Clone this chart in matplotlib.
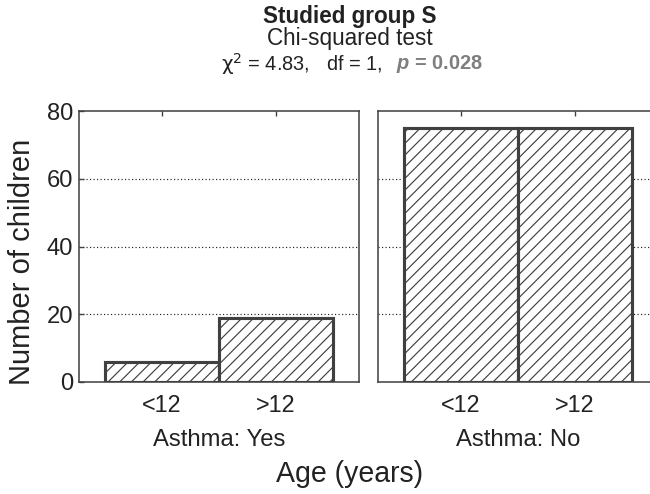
import matplotlib
matplotlib.use("Agg")
import matplotlib.pyplot as plt

plt.rcParams['font.family'] = ['Liberation Sans', 'DejaVu Sans']
plt.rcParams['hatch.color'] = '#808080'
plt.rcParams['hatch.linewidth'] = 0.6
plt.rcParams['mathtext.fontset'] = 'custom'
plt.rcParams['mathtext.it'] = 'Liberation Sans:italic:bold'
plt.rcParams['mathtext.rm'] = 'Liberation Sans'

age_groups = ["<12", ">12"]
asthma_groups = ["Asthma: Yes", "Asthma: No"]
counts_yes = [6, 19]
counts_no = [75, 75]
y_ticks = [0, 20, 40, 60, 80]

edge = '#404040'
txt = '#222222'
DPI = 140

fig = plt.figure(figsize=(650/DPI, 494/DPI), dpi=DPI)
ax1 = fig.add_axes([79/650, 112/494, 280/650, 271/494])
ax2 = fig.add_axes([378/650, 112/494, 280/650, 271/494])

for ax, vals, grp in [(ax1, counts_yes, asthma_groups[0]), (ax2, counts_no, asthma_groups[1])]:
    x = [1, 2]
    ax.bar(x, vals, width=1.0, color='white', edgecolor=edge, linewidth=1.6,
           hatch='////', zorder=3)
    ax.set_xlim(0.27, 2.73)
    ax.set_ylim(0, 80)
    ax.set_xticks(x)
    ax.set_xticklabels(age_groups, fontsize=12, color=txt)
    ax.set_yticks(y_ticks)
    ax.set_axisbelow(True)
    ax.yaxis.grid(True, linestyle=(0, (1, 2)), color=txt, linewidth=0.6)
    # no dotted line on top of the box edges
    gl = ax.get_ygridlines()
    gl[0].set_visible(False)
    gl[-1].set_visible(False)
    ax.tick_params(direction='in', length=2.5, top=True, right=False,
                   color=edge, width=0.7)
    ax.tick_params(axis='x', pad=6)
    for s in ax.spines.values():
        s.set_color(edge)
        s.set_linewidth(0.8)
        s.set_zorder(5)
    ax.text(1.5, -(440 - 382)/271, grp, transform=ax.get_xaxis_transform(),
            ha='center', va='center', fontsize=12.3, color=txt)

ax1.tick_params(axis='y', labelsize=12.2, labelcolor=txt, pad=3)
ax2.tick_params(axis='y', left=False, labelleft=False)

fig.text(22/650, 1 - 262/494, "Number of children", rotation=90, ha='center',
         va='center', fontsize=15, color=txt)
fig.text(350/650, 1 - 474/494, "Age (years)", ha='center', va='center',
         fontsize=14.7, color=txt)

fig.text(350/650, 1 - 16/494, "Studied group S", ha='center', va='center',
         fontsize=11.6, fontweight='bold', color=txt)
fig.text(350/650, 1 - 39/494, "Chi-squared test", ha='center', va='center',
         fontsize=11.6, color=txt)
fig.text(382/650, 1 - 64/494, r"$\mathrm{\chi}^2$ = 4.83,   df = 1,", ha='right', va='center',
         fontsize=10.3, color=txt, math_fontfamily='dejavusans')
fig.text(396/650, 1 - 64/494, r"$p$ = 0.028", ha='left', va='center',
         fontsize=10.3, fontweight='bold', color='#7f7f7f')

fig.savefig("out.png", dpi=DPI)
